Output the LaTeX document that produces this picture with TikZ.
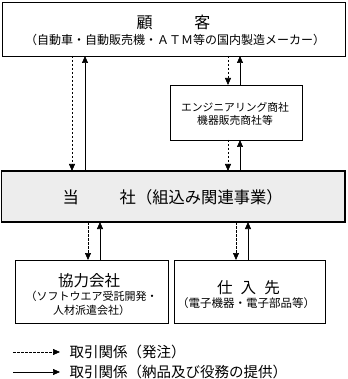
\documentclass[tikz,border=0pt]{standalone}
\usepackage{fontspec}
\setmainfont{Noto Sans CJK JP}
\usetikzlibrary{arrows.meta}
\begin{document}
\begin{tikzpicture}[x=1pt,y=-1pt,
  box/.style={draw=black,line width=0.8pt,fill=white},
  mainbox/.style={draw=black,line width=1.6pt,fill=black!7},
  ord/.style={dashed,dash pattern=on 2.5pt off 1.5pt,line width=0.7pt,-{Triangle[width=6pt,length=7pt]}},
  dlv/.style={line width=0.7pt,-{Triangle[width=6pt,length=7pt]}},
  big/.style={font=\fontsize{16}{18}\selectfont,inner sep=0pt},
  sm/.style={font=\fontsize{11}{14}\selectfont,align=center,inner sep=0pt},
  legtext/.style={anchor=west,font=\fontsize{14.5}{16}\selectfont,inner sep=0pt}]
\useasboundingbox (0,0) rectangle (347,379);
% boxes
\draw[box] (2,2) rectangle (345,56);
\node[big] (custT) at (173.5,22.5) {顧\hspace{2.6em}客};
\node[font=\fontsize{12}{14}\selectfont,inner sep=0pt] (custS) at (175,40) {（自動車・自動販売機・ＡＴＭ等の国内製造メーカー）};

\draw[box] (170,85) rectangle (302,140);
\node[font=\fontsize{10.8}{12.5}\selectfont,align=center,inner sep=0pt] (eng) at (235,114) {エンジニアリング商社\\機器販売商社等};

\draw[mainbox] (1.5,171) rectangle (345,222);
\node[font=\fontsize{16.3}{18}\selectfont,inner sep=0pt,anchor=west] (main) at (62.5,197.5) {当\hspace{2.5em}社（組込み関連事業）};

\draw[box] (15,260) rectangle (168,323);
\node[font=\fontsize{15.5}{18}\selectfont,inner sep=0pt] (kyo) at (89,280.5) {協力会社};
\node[sm] (kyoS) at (91.5,303) {（ソフトウエア受託開発・\\人材派遣会社）};

\draw[box] (174,260) rectangle (325,323);
\node[font=\fontsize{15.5}{18}\selectfont,inner sep=0pt] (shi) at (248.5,287.5) {仕\hspace{0.53em}入\hspace{0.53em}先};
\node[font=\fontsize{11.5}{14}\selectfont,inner sep=0pt] (shiS) at (246,303.5) {（電子機器・電子部品等）};

% coordinates for connectors
\coordinate (c1t) at (72,56); \coordinate (c1b) at (72,171);
\coordinate (c2t) at (85,56); \coordinate (c2b) at (85,171);
\coordinate (e1t) at (228,56); \coordinate (e1b) at (228,85);
\coordinate (e2t) at (240,56); \coordinate (e2b) at (240,85);
\coordinate (e3t) at (228,140); \coordinate (e3b) at (228,171);
\coordinate (e4t) at (240,140); \coordinate (e4b) at (240,171);
\coordinate (k1t) at (88,222); \coordinate (k1b) at (88,260);
\coordinate (k2t) at (100,222); \coordinate (k2b) at (100,260);
\coordinate (s1t) at (236,222); \coordinate (s1b) at (236,260);
\coordinate (s2t) at (248,222); \coordinate (s2b) at (248,260);

\draw[ord] (c1t) -- (c1b);
\draw[dlv] (c2b) -- (c2t);
\draw[ord] (e1t) -- (e1b);
\draw[dlv] (e2b) -- (e2t);
\draw[ord] (e3t) -- (e3b);
\draw[dlv] (e4b) -- (e4t);
\draw[ord] (k1t) -- (k1b);
\draw[dlv] (k2b) -- (k2t);
\draw[ord] (s1t) -- (s1b);
\draw[dlv] (s2b) -- (s2t);

% legend
\coordinate (l1a) at (13,352); \coordinate (l1b) at (60,352);
\coordinate (l2a) at (13,372); \coordinate (l2b) at (60,372);
\draw[ord] (l1a) -- (l1b);
\draw[dlv] (l2a) -- (l2b);
\node[legtext] (leg1) at (69.5,352) {取引関係（発注）};
\node[legtext] (leg2) at (69.5,372) {取引関係（納品及び役務の提供）};
\end{tikzpicture}
\end{document}
